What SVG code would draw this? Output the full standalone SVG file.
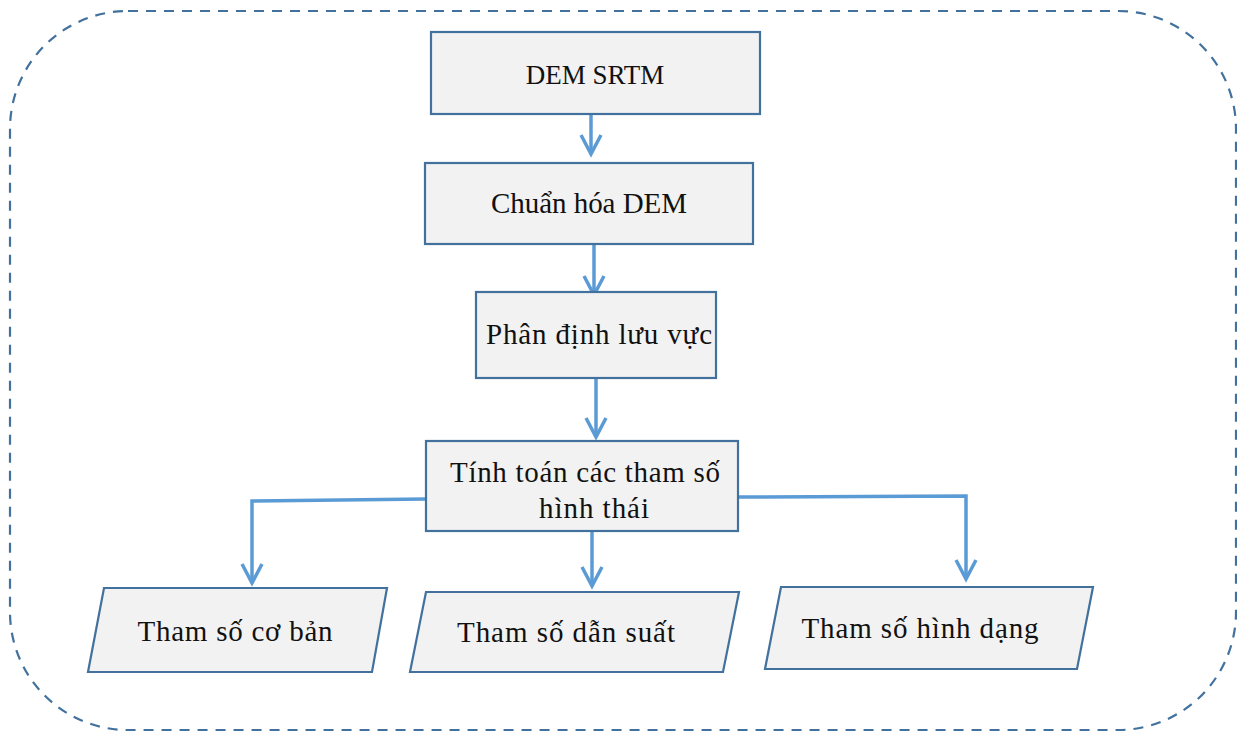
<svg xmlns="http://www.w3.org/2000/svg" width="1237" height="731" viewBox="0 0 1237 731">
<style>
.box{fill:#f2f2f2;stroke:#41719c;stroke-width:2.2}
.lbl{font-family:"Liberation Serif","Times New Roman",serif;font-size:29px;fill:#111;text-anchor:middle}
.con{fill:none;stroke:#5b9bd5;stroke-width:3.5}
.frame{fill:none;stroke:#41719c;stroke-width:2.2;stroke-dasharray:10 8}
</style>
<defs>
<marker id="chev" markerUnits="userSpaceOnUse" markerWidth="26" markerHeight="26" viewBox="-2 -2 26 26" refX="20" refY="10" orient="auto">
<path d="M1,0 L20,10 L1,20" fill="none" stroke="#5b9bd5" stroke-width="3.5"/>
</marker>
</defs>
<rect class="frame" x="10" y="11" width="1226" height="719" rx="118" ry="118"/>
<g id="connectors">
<path class="con" d="M591,114 L591,154" marker-end="url(#chev)"/>
<path class="con" d="M594,244 L594,295" marker-end="url(#chev)"/>
<path class="con" d="M596,378 L596,437" marker-end="url(#chev)"/>
<path class="con" d="M426,499 L252,501 L252,583" marker-end="url(#chev)"/>
<path class="con" d="M592,531 L592,586" marker-end="url(#chev)"/>
<path class="con" d="M738,497 L966,496 L966,579" marker-end="url(#chev)"/>
</g>
<g id="dem-srtm">
<rect class="box" x="431" y="32" width="329" height="82"/>
<text class="lbl" x="595" y="84" style="font-size:27px">DEM SRTM</text>
</g>
<g id="chuan-hoa-dem">
<rect class="box" x="425" y="163" width="328" height="81"/>
<text class="lbl" x="589" y="213" textLength="196">Chuẩn hóa DEM</text>
</g>
<g id="phan-dinh-luu-vuc">
<rect class="box" x="476" y="292" width="240" height="86"/>
<text class="lbl" x="599" y="344" textLength="226">Phân định lưu vực</text>
</g>
<g id="tinh-toan">
<rect class="box" x="426" y="441" width="312" height="90"/>
<text class="lbl" x="585" y="482" textLength="270">Tính toán các tham số</text>
<text class="lbl" x="594" y="518" textLength="110">hình thái</text>
</g>
<g id="tham-so-co-ban">
<polygon class="box" points="104,588 387,588 372,672 88,672"/>
<text class="lbl" x="235" y="641" textLength="195">Tham số cơ bản</text>
</g>
<g id="tham-so-dan-suat">
<polygon class="box" points="426,592 739,592 723,672 410,672"/>
<text class="lbl" x="566" y="642" textLength="218">Tham số dẫn suất</text>
</g>
<g id="tham-so-hinh-dang">
<polygon class="box" points="781,587 1093,587 1077,669 765,669"/>
<text class="lbl" x="920" y="638" textLength="237">Tham số hình dạng</text>
</g>
</svg>
